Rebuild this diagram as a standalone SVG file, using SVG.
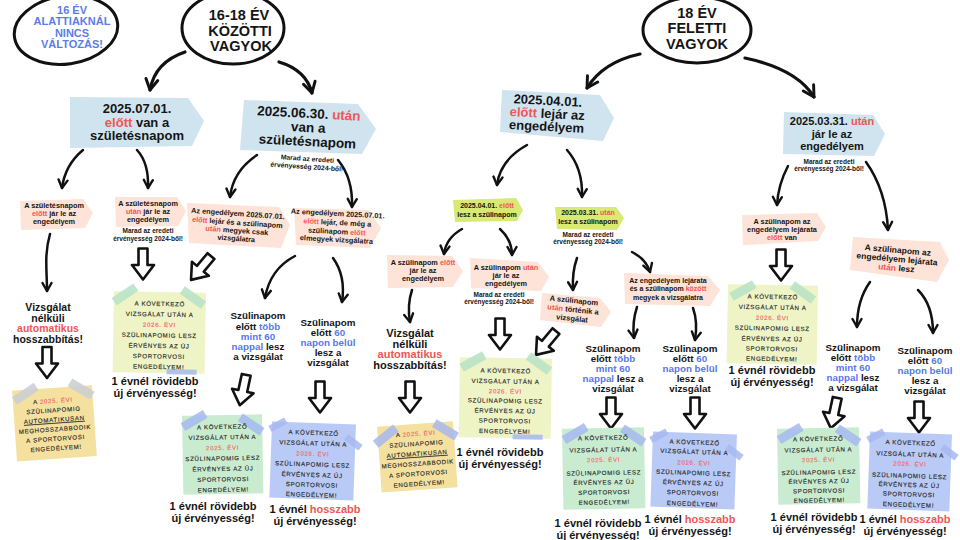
<svg xmlns="http://www.w3.org/2000/svg" width="960" height="540" viewBox="0 0 960 540">
<style>
.t{font-family:"Liberation Sans",Arial,sans-serif;font-weight:bold;fill:#151515;text-anchor:middle}
.r{fill:#f05656}
.b{fill:#5a78e6}
.bl{fill:#5b7de8}
.pt{font-family:"Liberation Sans",Arial,sans-serif;font-size:6.1px;letter-spacing:0.7px;fill:#2a2a2a;stroke:#2a2a2a;stroke-width:0.15;text-anchor:middle}
.pr{fill:#ef6a6a;stroke:#ef6a6a}
.oval{fill:#fff;stroke:#111;stroke-width:3}
.bb{fill:#cfe4ef}
.pk{fill:#fde3d8}
.lm{fill:#d8ea74}
.yg{fill:#eef4c6}
.gr{fill:#c9ecd1}
.bu{fill:#b9caf6}
.ye{fill:#f4e09f}
.tm{fill:#b6e2c6;opacity:.85}
.tb{fill:#a6b8ef;opacity:.85}
.tg{fill:#c9ccd4;opacity:.85}
.c{fill:none;stroke:#111;stroke-width:2.5;stroke-linecap:round;marker-end:url(#ah)}
.cL{fill:none;stroke:#111;stroke-width:3.2;stroke-linecap:round;marker-end:url(#ahL)}
</style>
<defs>
<marker id="ah" viewBox="0 0 12 12" refX="10" refY="6" markerWidth="12" markerHeight="12" markerUnits="userSpaceOnUse" orient="auto"><path d="M2,1.5 L10,6 L2,10.5" fill="none" stroke="#111" stroke-width="2.4" stroke-linecap="round" stroke-linejoin="round"/></marker>
<marker id="ahL" viewBox="0 0 12 12" refX="10" refY="6" markerWidth="16" markerHeight="16" markerUnits="userSpaceOnUse" orient="auto"><path d="M2,1.5 L10,6 L2,10.5" fill="none" stroke="#111" stroke-width="2.2" stroke-linecap="round" stroke-linejoin="round"/></marker>
<path id="hol" d="M-4.5,-15.5 H4.5 V1 H11 L0,15.5 L-11,1 H-4.5 Z" fill="#fff" stroke="#111" stroke-width="2.6" stroke-linejoin="round"/>
</defs>
<rect width="960" height="540" fill="#fff"/>

<g id="connectors">
<path class="cL" d="M185,52 Q155,62 150,90"/>
<path class="cL" d="M279,62 Q306,70 312,93"/>
<path class="cL" d="M640,54 Q603,62 587,88"/>
<path class="cL" d="M745,58 Q797,69 814,97"/>
<path class="c" d="M83,150 Q65,165 62,188"/>
<path class="c" d="M137,150 Q149,163 148,188"/>
<path class="c" d="M257,155 Q233,171 230,197"/>
<path class="c" d="M338,160 Q353,178 352,207"/>
<path class="c" d="M50,234 C44,255 47,270 47,291"/>
<path class="c" d="M295,256 Q270,269 265,298"/>
<path class="c" d="M333,258 Q346,276 342,302"/>
<path class="c" d="M527,145 Q500,160 497,185"/>
<path class="c" d="M567,150 Q583,168 582,197"/>
<path class="c" d="M462,229 Q446,238 444,254"/>
<path class="c" d="M500,229 Q512,240 512,255"/>
<path class="c" d="M577,258 Q572,272 573,290"/>
<path class="c" d="M632,252 Q646,259 650,272"/>
<path class="c" d="M412,290 Q407,305 410,322"/>
<path class="c" d="M637,307 Q632,322 634,338"/>
<path class="c" d="M693,308 Q698,322 695,340"/>
<path class="c" d="M788,166 Q778,185 777,205"/>
<path class="c" d="M866,162 Q886,190 888,230"/>
<path class="c" d="M870,282 Q857,300 857,327"/>
<path class="c" d="M918,290 Q933,305 933,333"/>
<use href="#hol" transform="translate(47,362.5)"/>
<use href="#hol" transform="translate(143,264)"/>
<use href="#hol" transform="translate(201,268) rotate(40)"/>
<use href="#hol" transform="translate(243,390) rotate(12)"/>
<use href="#hol" transform="translate(320,397)"/>
<use href="#hol" transform="translate(410,397)"/>
<use href="#hol" transform="translate(500,334)"/>
<use href="#hol" transform="translate(546,343) rotate(40)"/>
<use href="#hol" transform="translate(611,413)"/>
<use href="#hol" transform="translate(695,413)"/>
<use href="#hol" transform="translate(781,265)"/>
<use href="#hol" transform="translate(834,413) rotate(12)"/>
<use href="#hol" transform="translate(919,417)"/>
</g>

<g id="n-under16">
<ellipse class="oval" cx="66" cy="30" rx="52" ry="34" transform="rotate(-8 66 30)"/>
<text class="t bl" font-size="11"><tspan x="72" y="14">16 ÉV</tspan><tspan x="72" y="25">ALATTIAKNÁL</tspan><tspan x="72" y="36.5">NINCS</tspan><tspan x="72" y="48">VÁLTOZÁS!</tspan></text>
</g>
<g id="n-1618">
<ellipse class="oval" cx="233" cy="28" rx="51" ry="36"/>
<text class="t" font-size="14.5"><tspan x="239" y="19.5">16-18 ÉV</tspan><tspan x="240" y="35.5">KÖZÖTTI</tspan><tspan x="241" y="51">VAGYOK</tspan></text>
</g>
<g id="n-18">
<ellipse class="oval" cx="697" cy="30" rx="54" ry="33"/>
<text class="t" font-size="14.5"><tspan x="697" y="17.5">18 ÉV</tspan><tspan x="697" y="33">FELETTI</tspan><tspan x="697" y="48.5">VAGYOK</tspan></text>
</g>

<g id="box-0701">
<polygon class="bb" points="70,97 188,98 204,121 192,146 70,148"/>
<text class="t" font-size="13"><tspan x="137" y="113">2025.07.01.</tspan><tspan x="137" y="126.5"><tspan class="r">előtt</tspan> van a</tspan><tspan x="137" y="140">születésnapom</tspan></text>
</g>
<g id="box-0630">
<polygon class="bb" points="244,100 358,104 376,129 362,154 240,150"/>
<text class="t" font-size="13.5" transform="rotate(3 308 130)"><tspan x="308" y="118">2025.06.30. <tspan class="r">után</tspan></tspan><tspan x="308" y="132">van a</tspan><tspan x="308" y="146">születésnapom</tspan></text>
<text class="t" font-size="6.8" transform="rotate(4 307 165)"><tspan x="307" y="161">Marad az eredeti</tspan><tspan x="307" y="169">érvényesség 2024-ből!</tspan></text>
</g>
<g id="box-0401">
<polygon class="bb" points="502,90 600,95 614,118 603,141 500,132"/>
<text class="t" font-size="13" transform="rotate(3 547 118)"><tspan x="547" y="105">2025.04.01.</tspan><tspan x="547" y="118"><tspan class="r">előtt</tspan> lejár az</tspan><tspan x="547" y="131">engedélyem</tspan></text>
</g>
<g id="box-0331">
<polygon class="bb" points="784,112 873,115 885,134 874,156 783,154"/>
<text class="t" font-size="11"><tspan x="832" y="125">2025.03.31. <tspan class="r">után</tspan></tspan><tspan x="832" y="137.5">jár le az</tspan><tspan x="832" y="149.5">engedélyem</tspan></text>
<text class="t" font-size="6.5"><tspan x="829" y="164">Marad az eredeti</tspan><tspan x="829" y="171">érvényesség 2024-ből!</tspan></text>
</g>

<g id="tag-a">
<polygon class="pk" points="20,201 83,199 93,213 85,228 21,230"/>
<text class="t" font-size="7.3"><tspan x="54" y="208">A születésnapom</tspan><tspan x="54" y="216"><tspan class="r">előtt</tspan> jár le az</tspan><tspan x="54" y="224">engedélyem</tspan></text>
</g>
<g id="tag-b">
<polygon class="pk" points="115,197 177,197 186,211 178,226 116,227"/>
<text class="t" font-size="7.3"><tspan x="148" y="206">A születésnapom</tspan><tspan x="148" y="214"><tspan class="r">után</tspan> jár le az</tspan><tspan x="148" y="222">engedélyem</tspan></text>
<text class="t" font-size="6.5"><tspan x="148" y="233">Marad az eredeti</tspan><tspan x="148" y="240.5">érvényesség 2024-ből!</tspan></text>
</g>
<g id="tag-c">
<polygon class="pk" points="187,203 279,207 290,225 281,248 189,243"/>
<text class="t" font-size="7.3" transform="rotate(4 237 228)"><tspan x="237" y="216">Az engedélyem 2025.07.01.</tspan><tspan x="237" y="225"><tspan class="r">előtt</tspan> lejár és a szülinapom</tspan><tspan x="237" y="233"><tspan class="r">után</tspan> megyek csak</tspan><tspan x="237" y="241">vizsgálatra</tspan></text>
</g>
<g id="tag-d">
<polygon class="pk" points="294,208 368,210 381,228 370,248 296,245"/>
<text class="t" font-size="7.3" transform="rotate(3 337 228)"><tspan x="337" y="216">Az engedélyem 2025.07.01.</tspan><tspan x="337" y="225"><tspan class="r">előtt</tspan> lejár, de még a</tspan><tspan x="337" y="234">szülinapom <tspan class="r">előtt</tspan></tspan><tspan x="337" y="242">elmegyek vizsgálatra</tspan></text>
</g>
<g id="tag-e">
<polygon class="lm" points="453,200 516,198 523,210 517,221 455,222"/>
<text class="t" font-size="7"><tspan x="487" y="208">2025.04.01. <tspan class="r">előtt</tspan></tspan><tspan x="487" y="217">lesz a szülinapom</tspan></text>
</g>
<g id="tag-f">
<polygon class="lm" points="555,207 616,207 624,218 617,230 557,229"/>
<text class="t" font-size="7"><tspan x="588" y="215">2025.03.31. <tspan class="r">után</tspan></tspan><tspan x="588" y="224">lesz a szülinapom</tspan></text>
<text class="t" font-size="6.5"><tspan x="588" y="237">Marad az eredeti</tspan><tspan x="588" y="244">érvényesség 2024-ből!</tspan></text>
</g>
<g id="tag-g">
<polygon class="pk" points="387,255 452,256 463,271 453,287 388,288"/>
<text class="t" font-size="7.3"><tspan x="423" y="265">A szülinapom <tspan class="r">előtt</tspan></tspan><tspan x="423" y="273">jár le az</tspan><tspan x="423" y="281">engedélyem</tspan></text>
</g>
<g id="tag-h">
<polygon class="pk" points="470,258 538,262 549,277 541,291 471,288"/>
<text class="t" font-size="7.3"><tspan x="506" y="270">A szülinapom <tspan class="r">után</tspan></tspan><tspan x="506" y="278">jár le az</tspan><tspan x="506" y="286">engedélyem</tspan></text>
<text class="t" font-size="6.5"><tspan x="499" y="297">Marad az eredeti</tspan><tspan x="499" y="304">érvényesség 2024-ből!</tspan></text>
</g>
<g id="tag-i">
<polygon class="pk" points="542,293 600,298 611,312 601,327 540,320"/>
<text class="t" font-size="7.5" transform="rotate(6 573 310)"><tspan x="573" y="303">A szülinapom</tspan><tspan x="573" y="312"><tspan class="r">után</tspan> történik a</tspan><tspan x="573" y="321">vizsgálat</tspan></text>
</g>
<g id="tag-j">
<polygon class="pk" points="624,273 708,276 720,290 710,306 625,304"/>
<text class="t" font-size="7"><tspan x="668" y="283">Az engedélyem lejárata</tspan><tspan x="668" y="291">és a szülinapom <tspan class="r">között</tspan></tspan><tspan x="668" y="300">megyek a vizsgálatra</tspan></text>
</g>
<g id="tag-k">
<polygon class="pk" points="742,215 817,213 826,227 818,241 743,245"/>
<text class="t" font-size="7.3"><tspan x="782" y="224">A szülinapom az</tspan><tspan x="782" y="232">engedélyem lejárata</tspan><tspan x="782" y="239.5"><tspan class="r">előtt</tspan> van</tspan></text>
</g>
<g id="tag-l">
<polygon class="pk" points="853,237 940,242 949,260 937,282 850,270"/>
<text class="t" font-size="8.5" transform="rotate(5 898 260)"><tspan x="897" y="253">A szülinapom az</tspan><tspan x="897" y="262">engedélyem lejárata</tspan><tspan x="897" y="271"><tspan class="r">után</tspan> lesz</tspan></text>
</g>

<g id="v1">
<text class="t" font-size="10.5"><tspan x="48" y="311">Vizsgálat</tspan><tspan x="48" y="321.5">nélküli</tspan><tspan x="48" y="332" class="r">automatikus</tspan><tspan x="48" y="342.5">hosszabbítás!</tspan></text>
</g>
<g id="v2">
<text class="t" font-size="11"><tspan x="410" y="337">Vizsgálat</tspan><tspan x="410" y="347.5">nélküli</tspan><tspan x="410" y="358" class="r">automatikus</tspan><tspan x="410" y="369">hosszabbítás!</tspan></text>
</g>
<g id="s1">
<text class="t" font-size="9.8"><tspan x="258" y="319">Szülinapom</tspan><tspan x="258" y="329.5">előtt <tspan class="b">több</tspan></tspan><tspan x="258" y="340" class="b">mint 60</tspan><tspan x="258" y="350"><tspan class="b">nappal</tspan> lesz</tspan><tspan x="258" y="360">a vizsgálat</tspan></text>
</g>
<g id="s2">
<text class="t" font-size="9.8"><tspan x="328" y="326">Szülinapom</tspan><tspan x="328" y="336">előtt <tspan class="b">60</tspan></tspan><tspan x="328" y="346" class="b">napon belül</tspan><tspan x="328" y="356">lesz a</tspan><tspan x="328" y="366">vizsgálat</tspan></text>
</g>
<g id="s3">
<text class="t" font-size="9.8"><tspan x="613" y="352">Szülinapom</tspan><tspan x="613" y="362">előtt <tspan class="b">több</tspan></tspan><tspan x="613" y="372" class="b">mint 60</tspan><tspan x="613" y="382"><tspan class="b">nappal</tspan> lesz a</tspan><tspan x="613" y="392">vizsgálat</tspan></text>
</g>
<g id="s4">
<text class="t" font-size="9.8"><tspan x="690" y="352">Szülinapom</tspan><tspan x="690" y="362">előtt <tspan class="b">60</tspan></tspan><tspan x="690" y="372" class="b">napon belül</tspan><tspan x="690" y="382">lesz a</tspan><tspan x="690" y="392">vizsgálat</tspan></text>
</g>
<g id="s5">
<text class="t" font-size="9.8"><tspan x="853" y="351">Szülinapom</tspan><tspan x="853" y="361">előtt <tspan class="b">több</tspan></tspan><tspan x="853" y="371" class="b">mint 60</tspan><tspan x="853" y="381"><tspan class="b">nappal</tspan> lesz</tspan><tspan x="853" y="391">a vizsgálat</tspan></text>
</g>
<g id="s6">
<text class="t" font-size="9.8"><tspan x="925" y="354">Szülinapom</tspan><tspan x="925" y="364">előtt <tspan class="b">60</tspan></tspan><tspan x="925" y="374" class="b">napon belül</tspan><tspan x="925" y="384">lesz a</tspan><tspan x="925" y="394">vizsgálat</tspan></text>
</g>

<g id="p1">
<g transform="translate(160,292) rotate(1)">
<rect class="yg" x="-46" y="0" width="92" height="81"/>
<rect class="tm" x="-13" y="-4.5" width="26" height="9" transform="translate(-35,3) rotate(-35)"/>
<rect class="tm" x="-13" y="-4.5" width="26" height="9" transform="translate(33,5) rotate(35)"/>
<rect class="tb" x="8" y="77" width="30" height="5"/>
<text class="pt"><tspan x="0" y="14">A KÖVETKEZŐ</tspan><tspan x="0" y="24.5">VIZSGÁLAT UTÁN A</tspan><tspan x="0" y="35" class="pr">2026. ÉVI</tspan><tspan x="0" y="45.5">SZÜLINAPOMIG LESZ</tspan><tspan x="0" y="56">ÉRVÉNYES AZ ÚJ</tspan><tspan x="0" y="66.5">SPORTORVOSI</tspan><tspan x="0" y="77">ENGEDÉLYEM!</tspan></text>
</g>
<text class="t" font-size="11"><tspan x="155" y="385">1 évnél rövidebb</tspan><tspan x="155" y="397">új érvényesség!</tspan></text>
</g>
<g id="p2">
<g transform="translate(52,388) rotate(-4)">
<rect class="ye" x="-40" y="0" width="80" height="71"/>
<rect class="tg" x="-13" y="-4.5" width="26" height="9" transform="translate(-27,4) rotate(-30)"/>
<rect class="tg" x="-13" y="-4.5" width="26" height="9" transform="translate(29,3) rotate(35)"/>
<text class="pt" letter-spacing="0.6"><tspan x="0" y="15">A <tspan class="pr">2025. ÉVI</tspan></tspan><tspan x="0" y="24.5">SZÜLINAPOMIG</tspan><tspan x="0" y="34" text-decoration="underline">AUTOMATIKUSAN</tspan><tspan x="0" y="43.5">MEGHOSSZABBODIK</tspan><tspan x="0" y="53">A SPORTORVOSI</tspan><tspan x="0" y="62.5">ENGEDÉLYEM!</tspan></text>
</g>
</g>
<g id="p3">
<g transform="translate(222,415) rotate(-1)">
<rect class="gr" x="-40" y="0" width="80" height="79"/>
<rect class="tb" x="-13" y="-4.5" width="26" height="9" transform="translate(-28,5) rotate(-30)"/>
<rect class="tb" x="-13" y="-4.5" width="26" height="9" transform="translate(29,10) rotate(35)"/>
<text class="pt"><tspan x="0" y="14">A KÖVETKEZŐ</tspan><tspan x="0" y="24.5">VIZSGÁLAT UTÁN A</tspan><tspan x="0" y="35" class="pr">2025. ÉVI</tspan><tspan x="0" y="45.5">SZÜLINAPOMIG LESZ</tspan><tspan x="0" y="56">ÉRVÉNYES AZ ÚJ</tspan><tspan x="0" y="66.5">SPORTORVOSI</tspan><tspan x="0" y="77">ENGEDÉLYEM!</tspan></text>
</g>
<text class="t" font-size="11"><tspan x="213" y="510">1 évnél rövidebb</tspan><tspan x="213" y="522">új érvényesség!</tspan></text>
</g>
<g id="p4">
<g transform="translate(314,423) rotate(2)">
<rect class="bu" x="-42" y="0" width="84" height="76"/>
<rect class="tb" x="-9" y="-3.5" width="18" height="7" transform="translate(-36,3) rotate(-30)"/>
<rect class="tb" x="-9" y="-3.5" width="18" height="7" transform="translate(40,18) rotate(35)"/>
<text class="pt"><tspan x="0" y="12">A KÖVETKEZŐ</tspan><tspan x="0" y="22.5">VIZSGÁLAT UTÁN A</tspan><tspan x="0" y="33" class="pr">2026. ÉVI</tspan><tspan x="0" y="43.5">SZÜLINAPOMIG LESZ</tspan><tspan x="0" y="54">ÉRVÉNYES AZ ÚJ</tspan><tspan x="0" y="64">SPORTORVOSI</tspan><tspan x="0" y="74">ENGEDÉLYEM!</tspan></text>
</g>
<text class="t" font-size="11"><tspan x="315" y="513">1 évnél <tspan class="r">hosszabb</tspan></tspan><tspan x="315" y="525">új érvényesség!</tspan></text>
</g>
<g id="p5">
<g transform="translate(415,424) rotate(-4)">
<rect class="ye" x="-38" y="0" width="76" height="66"/>
<rect class="tb" x="-13" y="-4.5" width="26" height="9" transform="translate(-30,10) rotate(-35)"/>
<rect class="tb" x="-13" y="-4.5" width="26" height="9" transform="translate(30,8) rotate(35)"/>
<text class="pt" letter-spacing="0.6"><tspan x="0" y="12">A <tspan class="pr">2025. ÉVI</tspan></tspan><tspan x="0" y="22">SZÜLINAPOMIG</tspan><tspan x="0" y="32" text-decoration="underline">AUTOMATIKUSAN</tspan><tspan x="0" y="42">MEGHOSSZABBODIK</tspan><tspan x="0" y="52">A SPORTORVOSI</tspan><tspan x="0" y="62">ENGEDÉLYEM!</tspan></text>
</g>
</g>
<g id="p6">
<g transform="translate(506,358) rotate(1)">
<rect class="yg" x="-46" y="0" width="92" height="80"/>
<rect class="tm" x="-13" y="-4.5" width="26" height="9" transform="translate(-33,4) rotate(-30)"/>
<rect class="tm" x="-13" y="-4.5" width="26" height="9" transform="translate(33,5) rotate(35)"/>
<rect class="tb" x="8" y="76" width="30" height="5"/>
<text class="pt"><tspan x="0" y="15">A KÖVETKEZŐ</tspan><tspan x="0" y="25.5">VIZSGÁLAT UTÁN A</tspan><tspan x="0" y="35.5" class="pr">2026. ÉVI</tspan><tspan x="0" y="45">SZÜLINAPOMIG LESZ</tspan><tspan x="0" y="55">ÉRVÉNYES AZ ÚJ</tspan><tspan x="0" y="65">SPORTORVOSI</tspan><tspan x="0" y="75.5">ENGEDÉLYEM!</tspan></text>
</g>
<text class="t" font-size="11"><tspan x="500" y="456">1 évnél rövidebb</tspan><tspan x="500" y="468">új érvényesség!</tspan></text>
</g>
<g id="p7">
<g transform="translate(603,428) rotate(-1)">
<rect class="gr" x="-41" y="0" width="82" height="81"/>
<rect class="tb" x="-13" y="-4.5" width="26" height="9" transform="translate(-28,5) rotate(-30)"/>
<rect class="tb" x="-13" y="-4.5" width="26" height="9" transform="translate(30,8) rotate(35)"/>
<text class="pt"><tspan x="0" y="12">A KÖVETKEZŐ</tspan><tspan x="0" y="24">VIZSGÁLAT UTÁN A</tspan><tspan x="0" y="34" class="pr">2025. ÉVI</tspan><tspan x="0" y="47">SZÜLINAPOMIG LESZ</tspan><tspan x="0" y="56.5">ÉRVÉNYES AZ ÚJ</tspan><tspan x="0" y="66.5">SPORTORVOSI</tspan><tspan x="0" y="76.5">ENGEDÉLYEM!</tspan></text>
</g>
<text class="t" font-size="11"><tspan x="598" y="527">1 évnél rövidebb</tspan><tspan x="598" y="538.5">új érvényesség!</tspan></text>
</g>
<g id="p8">
<g transform="translate(695,433) rotate(2)">
<rect class="bu" x="-42" y="0" width="84" height="75"/>
<rect class="tb" x="-9" y="-3.5" width="18" height="7" transform="translate(-36,4) rotate(-30)"/>
<rect class="tb" x="-9" y="-3.5" width="18" height="7" transform="translate(40,18) rotate(35)"/>
<text class="pt"><tspan x="0" y="11.5">A KÖVETKEZŐ</tspan><tspan x="0" y="21">VIZSGÁLAT UTÁN A</tspan><tspan x="0" y="32" class="pr">2026. ÉVI</tspan><tspan x="0" y="42">SZÜLINAPOMIG LESZ</tspan><tspan x="0" y="52">ÉRVÉNYES AZ ÚJ</tspan><tspan x="0" y="62">SPORTORVOSI</tspan><tspan x="0" y="73">ENGEDÉLYEM!</tspan></text>
</g>
<text class="t" font-size="11"><tspan x="690" y="523">1 évnél <tspan class="r">hosszabb</tspan></tspan><tspan x="690" y="535">új érvényesség!</tspan></text>
</g>
<g id="p9">
<g transform="translate(773,285) rotate(1)">
<rect class="yg" x="-45" y="0" width="90" height="79"/>
<rect class="tm" x="-13" y="-4.5" width="26" height="9" transform="translate(-30,6) rotate(-30)"/>
<rect class="tm" x="-13" y="-4.5" width="26" height="9" transform="translate(30,7) rotate(35)"/>
<text class="pt"><tspan x="0" y="14">A KÖVETKEZŐ</tspan><tspan x="0" y="24.5">VIZSGÁLAT UTÁN A</tspan><tspan x="0" y="35" class="pr">2026. ÉVI</tspan><tspan x="0" y="45.5">SZÜLINAPOMIG LESZ</tspan><tspan x="0" y="56">ÉRVÉNYES AZ ÚJ</tspan><tspan x="0" y="66">SPORTORVOSI</tspan><tspan x="0" y="76">ENGEDÉLYEM!</tspan></text>
</g>
<text class="t" font-size="11"><tspan x="772" y="374">1 évnél rövidebb</tspan><tspan x="772" y="386">új érvényesség!</tspan></text>
</g>
<g id="p10">
<g transform="translate(818,428) rotate(-1)">
<rect class="gr" x="-41" y="0" width="82" height="76"/>
<rect class="tb" x="-13" y="-4.5" width="26" height="9" transform="translate(-28,5) rotate(-30)"/>
<rect class="tb" x="-13" y="-4.5" width="26" height="9" transform="translate(30,8) rotate(35)"/>
<text class="pt"><tspan x="0" y="13">A KÖVETKEZŐ</tspan><tspan x="0" y="24">VIZSGÁLAT UTÁN A</tspan><tspan x="0" y="34" class="pr">2025. ÉVI</tspan><tspan x="0" y="46.5">SZÜLINAPOMIG LESZ</tspan><tspan x="0" y="55.5">ÉRVÉNYES AZ ÚJ</tspan><tspan x="0" y="65">SPORTORVOSI</tspan><tspan x="0" y="74.5">ENGEDÉLYEM!</tspan></text>
</g>
<text class="t" font-size="11"><tspan x="814" y="521">1 évnél rövidebb</tspan><tspan x="814" y="533">új érvényesség!</tspan></text>
</g>
<g id="p11">
<g transform="translate(911,433) rotate(2)">
<rect class="bu" x="-41" y="0" width="82" height="77"/>
<rect class="tb" x="-9" y="-3.5" width="18" height="7" transform="translate(-35,4) rotate(-30)"/>
<rect class="tb" x="-9" y="-3.5" width="18" height="7" transform="translate(39,18) rotate(35)"/>
<text class="pt"><tspan x="0" y="12">A KÖVETKEZŐ</tspan><tspan x="0" y="23.5">VIZSGÁLAT UTÁN A</tspan><tspan x="0" y="33" class="pr">2026. ÉVI</tspan><tspan x="0" y="45">SZÜLINAPOMIG LESZ</tspan><tspan x="0" y="54">ÉRVÉNYES AZ ÚJ</tspan><tspan x="0" y="63.5">SPORTORVOSI</tspan><tspan x="0" y="74">ENGEDÉLYEM!</tspan></text>
</g>
<text class="t" font-size="11"><tspan x="905" y="523">1 évnél <tspan class="r">hosszabb</tspan></tspan><tspan x="905" y="535">új érvényesség!</tspan></text>
</g>
</svg>
